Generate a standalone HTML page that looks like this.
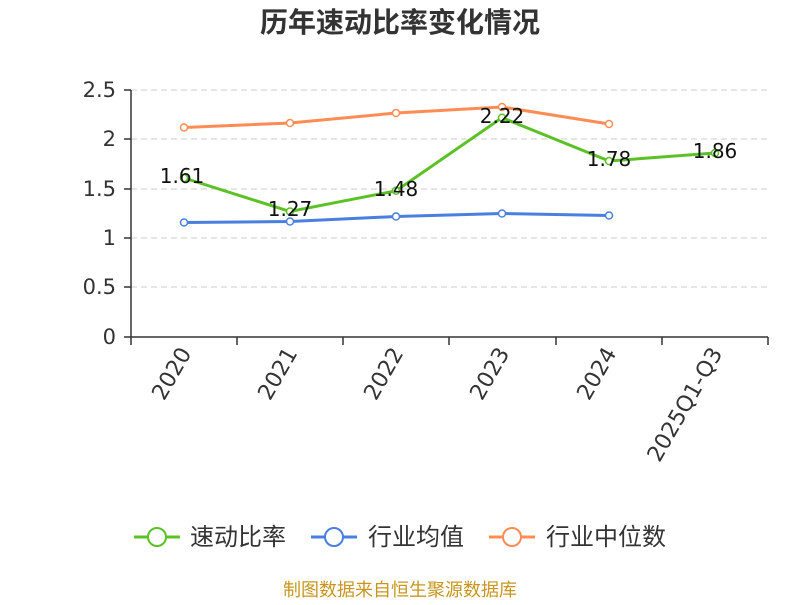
<!DOCTYPE html>
<html><head><meta charset="utf-8"><style>body{margin:0;background:#fff}</style></head>
<body>
<svg width="800" height="600" xmlns="http://www.w3.org/2000/svg" font-family="DejaVu Sans, Noto Sans CJK SC, sans-serif">
<rect width="800" height="600" fill="#fff"/>
<text x="400" y="32" text-anchor="middle" font-size="28" font-weight="bold" fill="#333" font-family="Noto Sans CJK SC, sans-serif">历年速动比率变化情况</text>
<g stroke="#ccc" stroke-dasharray="6,4" stroke-width="1">
<line x1="131" y1="90" x2="768" y2="90"/><line x1="131" y1="139" x2="768" y2="139"/>
<line x1="131" y1="189" x2="768" y2="189"/><line x1="131" y1="238" x2="768" y2="238"/>
<line x1="131" y1="287" x2="768" y2="287"/></g>
<g stroke="#333" stroke-width="1.5">
<line x1="131" y1="90" x2="131" y2="337"/><line x1="131" y1="337" x2="768" y2="337"/>
<line x1="124" y1="90" x2="131" y2="90"/><line x1="124" y1="139" x2="131" y2="139"/><line x1="124" y1="189" x2="131" y2="189"/><line x1="124" y1="238" x2="131" y2="238"/><line x1="124" y1="287" x2="131" y2="287"/><line x1="124" y1="337" x2="131" y2="337"/>
<line x1="131" y1="337" x2="131" y2="345"/><line x1="237" y1="337" x2="237" y2="345"/><line x1="343" y1="337" x2="343" y2="345"/><line x1="449" y1="337" x2="449" y2="345"/><line x1="556" y1="337" x2="556" y2="345"/><line x1="662" y1="337" x2="662" y2="345"/><line x1="768" y1="337" x2="768" y2="345"/></g>
<g font-size="21" fill="#333" text-anchor="end">
<text x="116" y="97">2.5</text><text x="116" y="146">2</text><text x="116" y="196">1.5</text><text x="116" y="245">1</text><text x="116" y="294">0.5</text><text x="116" y="344">0</text></g>
<g font-size="22" fill="#333" text-anchor="end">
<text transform="translate(192,353) rotate(-60)">2020</text>
<text transform="translate(298,353) rotate(-60)">2021</text>
<text transform="translate(404,353) rotate(-60)">2022</text>
<text transform="translate(510,353) rotate(-60)">2023</text>
<text transform="translate(617,353) rotate(-60)">2024</text>
<text transform="translate(723,353) rotate(-60)">2025Q1-Q3</text></g>
<polyline fill="none" stroke="#ff8c55" stroke-width="3" points="184,127.5 290,123 396,113 502,107 609,124"/>
<g fill="#fff" stroke="#ff8c55" stroke-width="1.5"><circle cx="184" cy="127.5" r="3.5"/><circle cx="290" cy="123" r="3.5"/><circle cx="396" cy="113" r="3.5"/><circle cx="502" cy="107" r="3.5"/><circle cx="609" cy="124" r="3.5"/></g>
<polyline fill="none" stroke="#4a7fe0" stroke-width="3" points="184,222.5 290,221.5 396,216.5 502,213.5 609,215.5"/>
<g fill="#fff" stroke="#4a7fe0" stroke-width="1.5"><circle cx="184" cy="222.5" r="3.5"/><circle cx="290" cy="221.5" r="3.5"/><circle cx="396" cy="216.5" r="3.5"/><circle cx="502" cy="213.5" r="3.5"/><circle cx="609" cy="215.5" r="3.5"/></g>
<polyline fill="none" stroke="#5cc126" stroke-width="3" points="184,178 290,211.5 396,190.8 502,117.7 609,161 715,153"/>
<g fill="#fff" stroke="#5cc126" stroke-width="1.5"><circle cx="184" cy="178" r="3.5"/><circle cx="290" cy="211.5" r="3.5"/><circle cx="396" cy="190.8" r="3.5"/><circle cx="502" cy="117.7" r="3.5"/><circle cx="609" cy="161" r="3.5"/><circle cx="715" cy="153" r="3.5"/></g>
<g font-size="20" fill="#111" text-anchor="middle">
<text x="182" y="183">1.61</text><text x="290" y="216">1.27</text><text x="396" y="196">1.48</text><text x="502" y="123">2.22</text><text x="609" y="166">1.78</text><text x="715" y="158">1.86</text></g>
<g font-size="24" fill="#333" font-family="Noto Sans CJK SC, sans-serif">
<line x1="134" y1="537" x2="180" y2="537" stroke="#5cc126" stroke-width="3"/><circle cx="157" cy="537" r="9" fill="#fff" stroke="#5cc126" stroke-width="2"/>
<text x="190" y="545">速动比率</text>
<line x1="311" y1="537" x2="357" y2="537" stroke="#4a7fe0" stroke-width="3"/><circle cx="334" cy="537" r="9" fill="#fff" stroke="#4a7fe0" stroke-width="2"/>
<text x="368" y="545">行业均值</text>
<line x1="489" y1="537" x2="535" y2="537" stroke="#ff8c55" stroke-width="3"/><circle cx="512" cy="537" r="9" fill="#fff" stroke="#ff8c55" stroke-width="2"/>
<text x="546" y="545">行业中位数</text></g>
<text x="400" y="596" text-anchor="middle" font-size="18" fill="#c8961e" font-family="Noto Sans CJK SC, sans-serif">制图数据来自恒生聚源数据库</text>
</svg>
</body></html>
